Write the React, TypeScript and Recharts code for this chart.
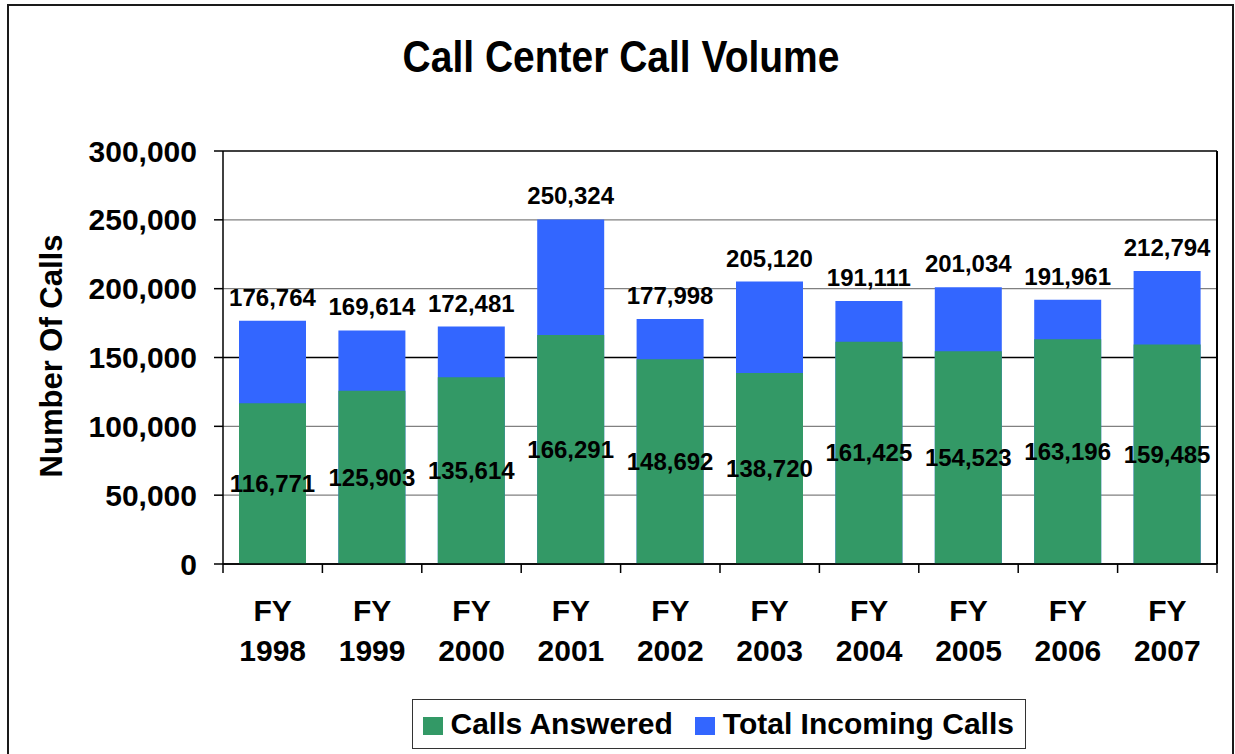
import React from 'react';
import {
  BarChart,
  Bar,
  XAxis,
  YAxis,
  CartesianGrid,
  LabelList,
  Legend,
  Label,
} from 'recharts';

const CATEGORIES = [
  'FY 1998',
  'FY 1999',
  'FY 2000',
  'FY 2001',
  'FY 2002',
  'FY 2003',
  'FY 2004',
  'FY 2005',
  'FY 2006',
  'FY 2007',
];
const CALLS_ANSWERED = [116771, 125903, 135614, 166291, 148692, 138720, 161425, 154523, 163196, 159485];
const TOTAL_INCOMING = [176764, 169614, 172481, 250324, 177998, 205120, 191111, 201034, 191961, 212794];
const Y_TICKS = [0, 50000, 100000, 150000, 200000, 250000, 300000];

const SERIES = [
  { key: 'answered', name: 'Calls Answered', color: '#339966' },
  { key: 'total', name: 'Total Incoming Calls', color: '#3366FF' },
];

const data = CATEGORIES.map((name, i) => ({
  name,
  answered: CALLS_ANSWERED[i],
  total: TOTAL_INCOMING[i],
}));

const FONT = '"Liberation Sans", Arial, Helvetica, sans-serif';
const W = 1235;
const H = 754;
const MARGIN = { top: 151, right: 17, bottom: 90, left: 0 };
const Y_AXIS_W = 223;
const RIGHT_AXIS_W = 1;
const X_AXIS_H = 100;
const BAND = (W - MARGIN.left - MARGIN.right - Y_AXIS_W - RIGHT_AXIS_W) / CATEGORIES.length;

const fmt = (v: any) => Number(v).toLocaleString('en-US');

function XTick(props: any) {
  const { x, y, payload, index } = props;
  const parts = String(payload.value).split(' ');
  const half = BAND / 2;
  return (
    <g>
      <line x1={x - half} x2={x - half} y1={y} y2={y + 9} stroke="#000" strokeWidth={1.5} />
      {index === CATEGORIES.length - 1 && (
        <line x1={x + half} x2={x + half} y1={y} y2={y + 9} stroke="#000" strokeWidth={1.5} />
      )}
      <text x={x} y={y + 57} textAnchor="middle" fontFamily={FONT} fontWeight="bold" fontSize={30} fill="#000">
        {parts[0]}
      </text>
      <text x={x} y={y + 97} textAnchor="middle" fontFamily={FONT} fontWeight="bold" fontSize={30} fill="#000">
        {parts[1]}
      </text>
    </g>
  );
}

function gridLine(p: any) {
  const dark = p.index === 3 || p.index === 0 || p.index === Y_TICKS.length - 1;
  return (
    <line
      key={`gl-${p.index}`}
      x1={p.x1}
      x2={p.x2}
      y1={p.y1}
      y2={p.y2}
      stroke={dark ? '#000' : '#808080'}
      strokeWidth={dark ? 1.5 : 1.2}
    />
  );
}

function renderYLabel() {
  return (
    <text
      x={62}
      y={356}
      transform="rotate(-90 62 356)"
      textAnchor="middle"
      fontFamily={FONT}
      fontWeight="bold"
      fontSize={31}
      fill="#000"
    >
      Number Of Calls
    </text>
  );
}

function renderLegend() {
  return (
    <div
      style={{
        boxSizing: 'border-box',
        width: 614,
        height: 50,
        border: '1.5px solid #333',
        background: '#fff',
        display: 'flex',
        alignItems: 'center',
        paddingLeft: 9.5,
        fontFamily: FONT,
        fontWeight: 'bold',
        fontSize: 30,
        color: '#000',
        whiteSpace: 'nowrap',
      }}
    >
      {SERIES.map((s, i) => (
        <React.Fragment key={s.key}>
          <span
            style={{
              display: 'inline-block',
              flex: '0 0 auto',
              width: 20,
              height: 18,
              background: s.color,
              marginRight: 8,
              marginLeft: i === 0 ? 0 : 22,
              marginTop: 3,
            }}
          />
          <span>{s.name}</span>
        </React.Fragment>
      ))}
    </div>
  );
}

export default function App() {
  return (
    <div
      style={{
        position: 'absolute',
        left: 0,
        top: 0,
        width: W,
        height: H,
        overflow: 'hidden',
        background: '#fff',
      }}
    >
      <div
        style={{
          position: 'absolute',
          left: 7,
          top: 3.5,
          width: 1227,
          height: 780,
          boxSizing: 'border-box',
          border: '2px solid #1a1a1a',
        }}
      />
      <BarChart
        width={W}
        height={H}
        data={data}
        margin={MARGIN}
        barSize={67}
        barGap={-67}
        style={{ position: 'absolute', left: 0, top: 0 }}
      >
        <CartesianGrid vertical={false} horizontal={gridLine} />
        <XAxis
          dataKey="name"
          height={X_AXIS_H}
          interval={0}
          tickSize={0}
          tickMargin={0}
          tickLine={false}
          axisLine={{ stroke: '#000', strokeWidth: 1.5 }}
          tick={<XTick />}
        />
        <YAxis
          width={Y_AXIS_W}
          domain={[0, 300000]}
          ticks={Y_TICKS}
          interval={0}
          tickSize={9}
          tickMargin={17}
          tickFormatter={fmt}
          axisLine={{ stroke: '#000', strokeWidth: 1.5 }}
          tickLine={{ stroke: '#000', strokeWidth: 1.5 }}
          tick={{ fontFamily: FONT, fontWeight: 'bold', fontSize: 30, fill: '#000' }}
        >
          <Label content={renderYLabel} />
        </YAxis>
        <YAxis
          yAxisId="right"
          orientation="right"
          width={RIGHT_AXIS_W}
          domain={[0, 300000]}
          tick={false}
          tickLine={false}
          axisLine={{ stroke: '#000', strokeWidth: 2 }}
        />
        <Legend
          layout="horizontal"
          verticalAlign="middle"
          align="center"
          wrapperStyle={{ left: 412, top: 699, width: 614, height: 50 }}
          content={renderLegend}
        />
        <Bar dataKey="total" name="Total Incoming Calls" fill="#3366FF" isAnimationActive={false}>
          <LabelList
            dataKey="total"
            position="top"
            offset={15}
            formatter={fmt}
            fill="#000"
            fontFamily={FONT}
            fontWeight="bold"
            fontSize={24}
          />
        </Bar>
        <Bar dataKey="answered" name="Calls Answered" fill="#339966" isAnimationActive={false}>
          <LabelList
            dataKey="answered"
            position="center"
            formatter={fmt}
            fill="#000"
            fontFamily={FONT}
            fontWeight="bold"
            fontSize={24}
          />
        </Bar>
      </BarChart>
      <svg
        width={W}
        height={120}
        style={{ position: 'absolute', left: 0, top: 0, pointerEvents: 'none' }}
      >
        <text
          transform="translate(621 72) scale(1 1.12)"
          textAnchor="middle"
          fontFamily={FONT}
          fontWeight="bold"
          fontSize={39}
          fill="#000"
        >
          Call Center Call Volume
        </text>
      </svg>
    </div>
  );
}
